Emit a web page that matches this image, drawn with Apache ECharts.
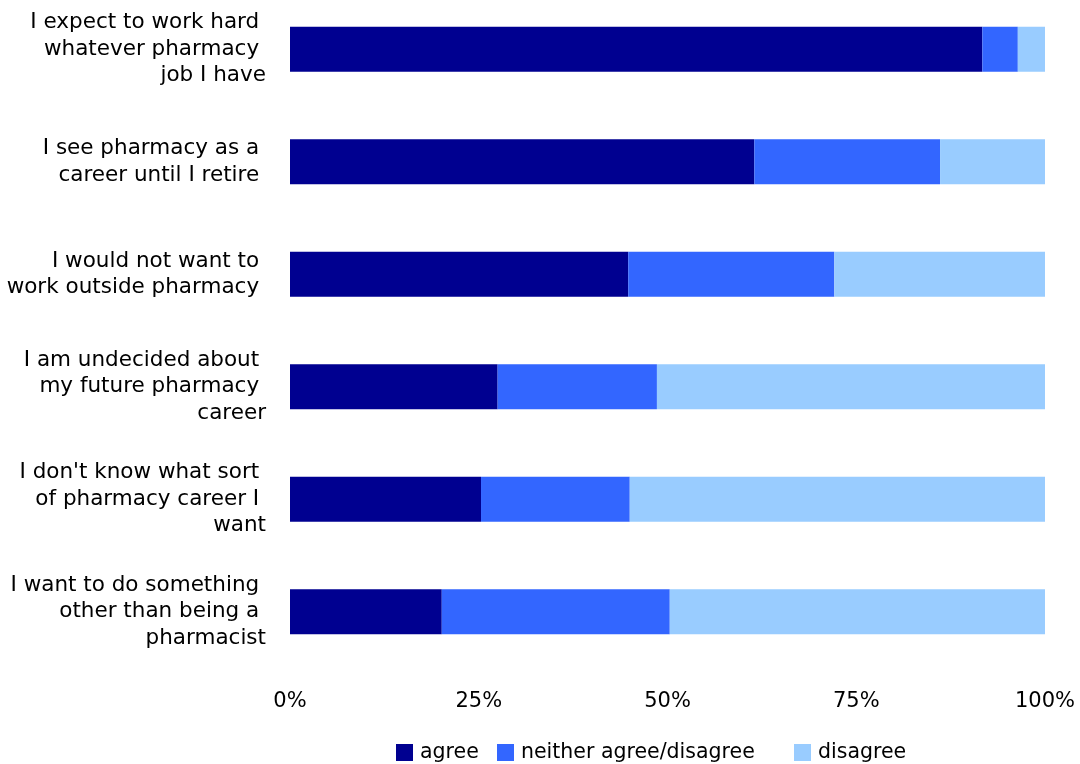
<!DOCTYPE html>
<html>
<head>
<meta charset="utf-8">
<script src="https://cdn.jsdelivr.net/npm/echarts@6/dist/echarts.min.js"></script>
<style>html,body{margin:0;padding:0;background:#fff;overflow:hidden}#c{width:1080px;height:771px;margin-top:-7px}</style>
</head>
<body>
<div id="c"></div>
<script>
const categories = [
  ["I expect to work hard ", "whatever pharmacy ", "job I have"],
  ["I see pharmacy as a ", "career until I retire "],
  ["I would not want to ", "work outside pharmacy "],
  ["I am undecided about ", "my future pharmacy ", "career"],
  ["I don't know what sort ", "of pharmacy career I ", "want"],
  ["I want to do something ", "other than being a ", "pharmacist"]
];
const seriesNames = ["agree", "neither agree/disagree", "disagree"];
const agree = [91.7, 61.5, 44.8, 27.5, 25.3, 20.1];
const neither = [4.7, 24.6, 27.3, 21.1, 19.7, 30.2];
const disagree = [3.6, 13.9, 27.9, 51.4, 55.0, 49.7];
const xTicks = [0, 25, 50, 75, 100];
const colors = ["#000090", "#3366FF", "#99CCFF"];

const chart = echarts.init(document.getElementById('c'), null, {renderer: 'canvas'});
const font = "DejaVu Sans, Verdana, sans-serif";
const values = [agree, neither, disagree];
const legendLefts = [396, 497, 794];
chart.setOption({
  animation: false,
  backgroundColor: '#ffffff',
  grid: {left: 290, right: 35, top: 0, bottom: 96, containLabel: false},
  xAxis: {
    type: 'value', min: xTicks[0], max: xTicks[xTicks.length - 1], interval: 25,
    axisLine: {show: false}, axisTick: {show: false}, splitLine: {show: false},
    axisLabel: {formatter: '{value}%', fontFamily: font, fontSize: 21, color: '#000', margin: 23}
  },
  yAxis: {
    type: 'category', inverse: true,
    data: categories.map(c => c.join('\n')),
    axisLine: {show: false}, axisTick: {show: false},
    axisLabel: {fontFamily: font, fontSize: 21.5, lineHeight: 26.5, color: '#000', margin: 24, align: 'right'}
  },
  legend: seriesNames.map((n, i) => ({
    left: legendLefts[i], top: 749, padding: 0, itemWidth: 17, itemHeight: 17, itemGap: 0,
    icon: 'rect',
    textStyle: {fontFamily: font, fontSize: 20.5, color: '#000', padding: [0, 0, 0, 2]},
    data: [n]
  })),
  series: seriesNames.map((n, i) => ({
    name: n, type: 'bar', stack: 'total', barWidth: 45,
    itemStyle: {color: colors[i]},
    data: values[i]
  }))
});
</script>
</body>
</html>
